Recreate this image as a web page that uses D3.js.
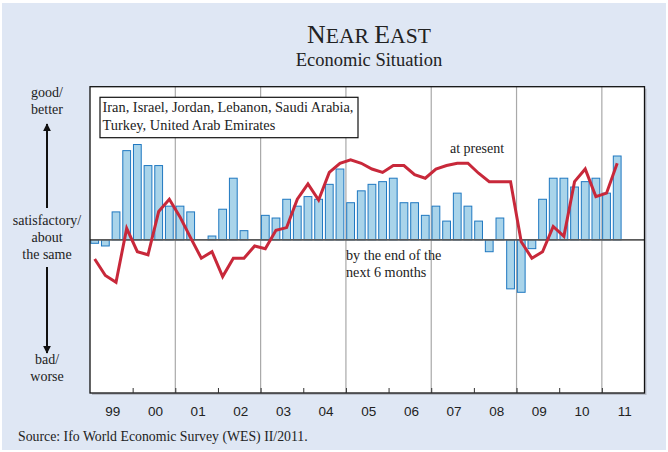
<!DOCTYPE html>
<html>
<head>
<meta charset="utf-8">
<script src="https://cdn.jsdelivr.net/npm/d3@7/dist/d3.min.js"></script>
<style>
  html, body { margin: 0; padding: 0; background: #ffffff; }
  svg { display: block; }
</style>
</head>
<body>
<svg id="chart" width="668" height="452"></svg>
<script>
// Ifo World Economic Survey, Near East: economic situation index (1 = bad/worse, 9 = good/better)
const firstYear = 1999;
const yearLabels = ["99", "00", "01", "02", "03", "04", "05", "06", "07", "08", "09", "10", "11"];

// Expectations: by the end of the next 6 months (quarterly, 1999 Q1 - 2011 Q2)
const expectations = [
  4.91, 4.84, 5.73, 7.33,
  7.49, 6.94, 6.94, 5.88,
  5.88, 5.73, 5.00, 5.10,
  5.80, 6.61, 5.24, 5.00,
  5.64, 5.57, 6.06, 5.88,
  6.13, 6.06, 6.45, 6.85,
  5.97, 6.28, 6.45, 6.52,
  6.61, 5.97, 5.97, 5.64,
  5.88, 5.49, 6.22, 5.88,
  5.49, 4.69, 5.57, 3.72,
  3.63, 4.77, 6.06, 6.61,
  6.61, 6.38, 6.52, 6.61,
  6.22, 7.19
];

// Present situation (quarterly, 1999 Q1 - 2011 Q2)
const presentSituation = [
  4.50, 4.07, 3.89, 5.30,
  4.69, 4.61, 5.74, 6.06,
  5.60, 5.05, 4.52, 4.69,
  4.04, 4.52, 4.52, 4.84,
  4.77, 5.25, 5.32, 6.06,
  6.46, 6.04, 6.76, 7.00,
  7.09, 7.00, 6.85, 6.76,
  6.94, 6.94, 6.70, 6.61,
  6.85, 6.94, 7.00, 7.00,
  6.74, 6.52, 6.52, 6.52,
  4.95, 4.52, 4.69, 5.35,
  5.09, 6.52, 6.85, 6.13,
  6.22, 7.00
];

const countries = ["Iran, Israel, Jordan, Lebanon, Saudi Arabia,", "Turkey, United Arab Emirates"];

const svg = d3.select("#chart");
const W = 668, H = 452;
const plot = { left: 90, right: 644.5, top: 86.7, bottom: 393 };

const serif = "'Liberation Serif', 'Times New Roman', serif";
const sans = "'Liberation Sans', Arial, sans-serif";

// page background
svg.append("rect").attr("x", 2).attr("y", 3).attr("width", W - 4).attr("height", H - 5)
  .attr("fill", "#dfe7f4");

const x = d3.scaleLinear().domain([firstYear, firstYear + yearLabels.length]).range([plot.left, plot.right]);
const y = d3.scaleLinear().domain([1, 9]).range([plot.bottom, plot.top]);

const quarterStart = i => x(firstYear + i / 4);
const qStep = x(firstYear + 0.25) - x(firstYear);

// plot frame with light shadow
svg.append("rect").attr("x", plot.left + 2).attr("y", plot.top + 2)
  .attr("width", plot.right - plot.left).attr("height", plot.bottom - plot.top)
  .attr("fill", "#b9bec8");
svg.append("rect").attr("x", plot.left).attr("y", plot.top)
  .attr("width", plot.right - plot.left).attr("height", plot.bottom - plot.top)
  .attr("fill", "#ffffff");

// vertical gridlines every second year
const gridYears = d3.range(firstYear + 2, firstYear + yearLabels.length, 2);
svg.append("g").selectAll("line").data(gridYears).join("line")
  .attr("x1", d => x(d)).attr("x2", d => x(d))
  .attr("y1", plot.top).attr("y2", plot.bottom)
  .attr("stroke", "#a9a9a9").attr("stroke-width", 1.2);

// bars: expectations
const barPad = 0.8, barW = qStep * 0.73;
svg.append("g").selectAll("rect").data(expectations).join("rect")
  .attr("x", (d, i) => quarterStart(i) + barPad)
  .attr("y", d => Math.min(y(d), y(5)))
  .attr("width", barW)
  .attr("height", d => Math.abs(y(d) - y(5)))
  .attr("fill", "#a9d4ea")
  .attr("stroke", "#1f78c1")
  .attr("stroke-width", 1);

// zero line (satisfactory / about the same)
svg.append("line")
  .attr("x1", plot.left).attr("x2", plot.right)
  .attr("y1", y(5)).attr("y2", y(5))
  .attr("stroke", "#5a5a5a").attr("stroke-width", 1.6);

// line: present situation
const line = d3.line()
  .x((d, i) => quarterStart(i) + barPad + barW / 2)
  .y(d => y(d));
svg.append("path").datum(presentSituation)
  .attr("d", line)
  .attr("fill", "none")
  .attr("stroke", "#c8283a")
  .attr("stroke-width", 3)
  .attr("stroke-linejoin", "miter");

// frame border
svg.append("rect").attr("x", plot.left).attr("y", plot.top)
  .attr("width", plot.right - plot.left).attr("height", plot.bottom - plot.top)
  .attr("fill", "none").attr("stroke", "#111").attr("stroke-width", 1.3);

// year ticks on the bottom edge
const tickAxis = d3.axisBottom(x)
  .tickValues(d3.range(firstYear + 1, firstYear + yearLabels.length))
  .tickSizeInner(-5).tickSizeOuter(0).tickFormat("");
const gTicks = svg.append("g").attr("transform", `translate(0,${plot.bottom})`).call(tickAxis);
gTicks.select(".domain").remove();
gTicks.selectAll("line").attr("stroke", "#333").attr("stroke-width", 1);

// year labels centred in each year
const labelAxis = d3.axisBottom(x)
  .tickValues(yearLabels.map((d, i) => firstYear + i + 0.5))
  .tickSize(0)
  .tickFormat((d, i) => yearLabels[i]);
const gLabels = svg.append("g").attr("transform", `translate(1,${plot.bottom + 10})`).call(labelAxis);
gLabels.select(".domain").remove();
gLabels.selectAll("text")
  .attr("font-family", sans).attr("font-size", 13.5).attr("fill", "#222");

// title
const title = svg.append("text").attr("x", 369).attr("y", 43)
  .attr("text-anchor", "middle").attr("font-family", serif).attr("fill", "#222");
title.append("tspan").attr("font-size", 25.8).text("N");
title.append("tspan").attr("font-size", 21.6).text("EAR ");
title.append("tspan").attr("font-size", 25.8).text("E");
title.append("tspan").attr("font-size", 21.6).text("AST");
svg.append("text").attr("x", 369).attr("y", 66)
  .attr("text-anchor", "middle").attr("font-family", serif).attr("font-size", 18.5)
  .attr("fill", "#222").text("Economic Situation");

// country list box
svg.append("rect").attr("x", 100).attr("y", 97.3).attr("width", 258).attr("height", 40.4)
  .attr("fill", "#fff").attr("stroke", "#111").attr("stroke-width", 1.2);
svg.append("g").selectAll("text").data(countries).join("text")
  .attr("x", 102.5).attr("y", (d, i) => 111.8 + i * 18.5)
  .attr("font-family", serif).attr("font-size", 14.4).attr("fill", "#222")
  .text(d => d);

// series annotations
svg.append("text").attr("x", 450).attr("y", 153)
  .attr("font-family", serif).attr("font-size", 14).attr("fill", "#222").text("at present");
svg.append("g").selectAll("text").data(["by the end of the", "next 6 months"]).join("text")
  .attr("x", 346).attr("y", (d, i) => 260 + i * 17)
  .attr("font-family", serif).attr("font-size", 14.2).attr("fill", "#222")
  .text(d => d);

// scale description on the left
const leftX = 47;
const leftLabels = [
  { t: "good/", y: 97 }, { t: "better", y: 114 },
  { t: "satisfactory/", y: 225 }, { t: "about", y: 242 }, { t: "the same", y: 259 },
  { t: "bad/", y: 364 }, { t: "worse", y: 381 }
];
svg.append("g").selectAll("text").data(leftLabels).join("text")
  .attr("x", leftX).attr("y", d => d.y).attr("text-anchor", "middle")
  .attr("font-family", serif).attr("font-size", 14).attr("fill", "#222")
  .text(d => d.t);

const defs = svg.append("defs");
defs.append("marker").attr("id", "arrowHead")
  .attr("viewBox", "0 0 10 10").attr("refX", 9).attr("refY", 5)
  .attr("markerWidth", 4).attr("markerHeight", 4).attr("orient", "auto")
  .append("path").attr("d", "M0,0 L10,5 L0,10 z").attr("fill", "#111");
svg.append("line").attr("x1", leftX).attr("x2", leftX).attr("y1", 208).attr("y2", 124)
  .attr("stroke", "#111").attr("stroke-width", 2).attr("marker-end", "url(#arrowHead)");
svg.append("line").attr("x1", leftX).attr("x2", leftX).attr("y1", 267).attr("y2", 353)
  .attr("stroke", "#111").attr("stroke-width", 2).attr("marker-end", "url(#arrowHead)");

// source note
svg.append("text").attr("x", 18).attr("y", 441)
  .attr("font-family", serif).attr("font-size", 13.8).attr("fill", "#222")
  .text("Source: Ifo World Economic Survey (WES) II/2011.");
</script>
</body>
</html>
